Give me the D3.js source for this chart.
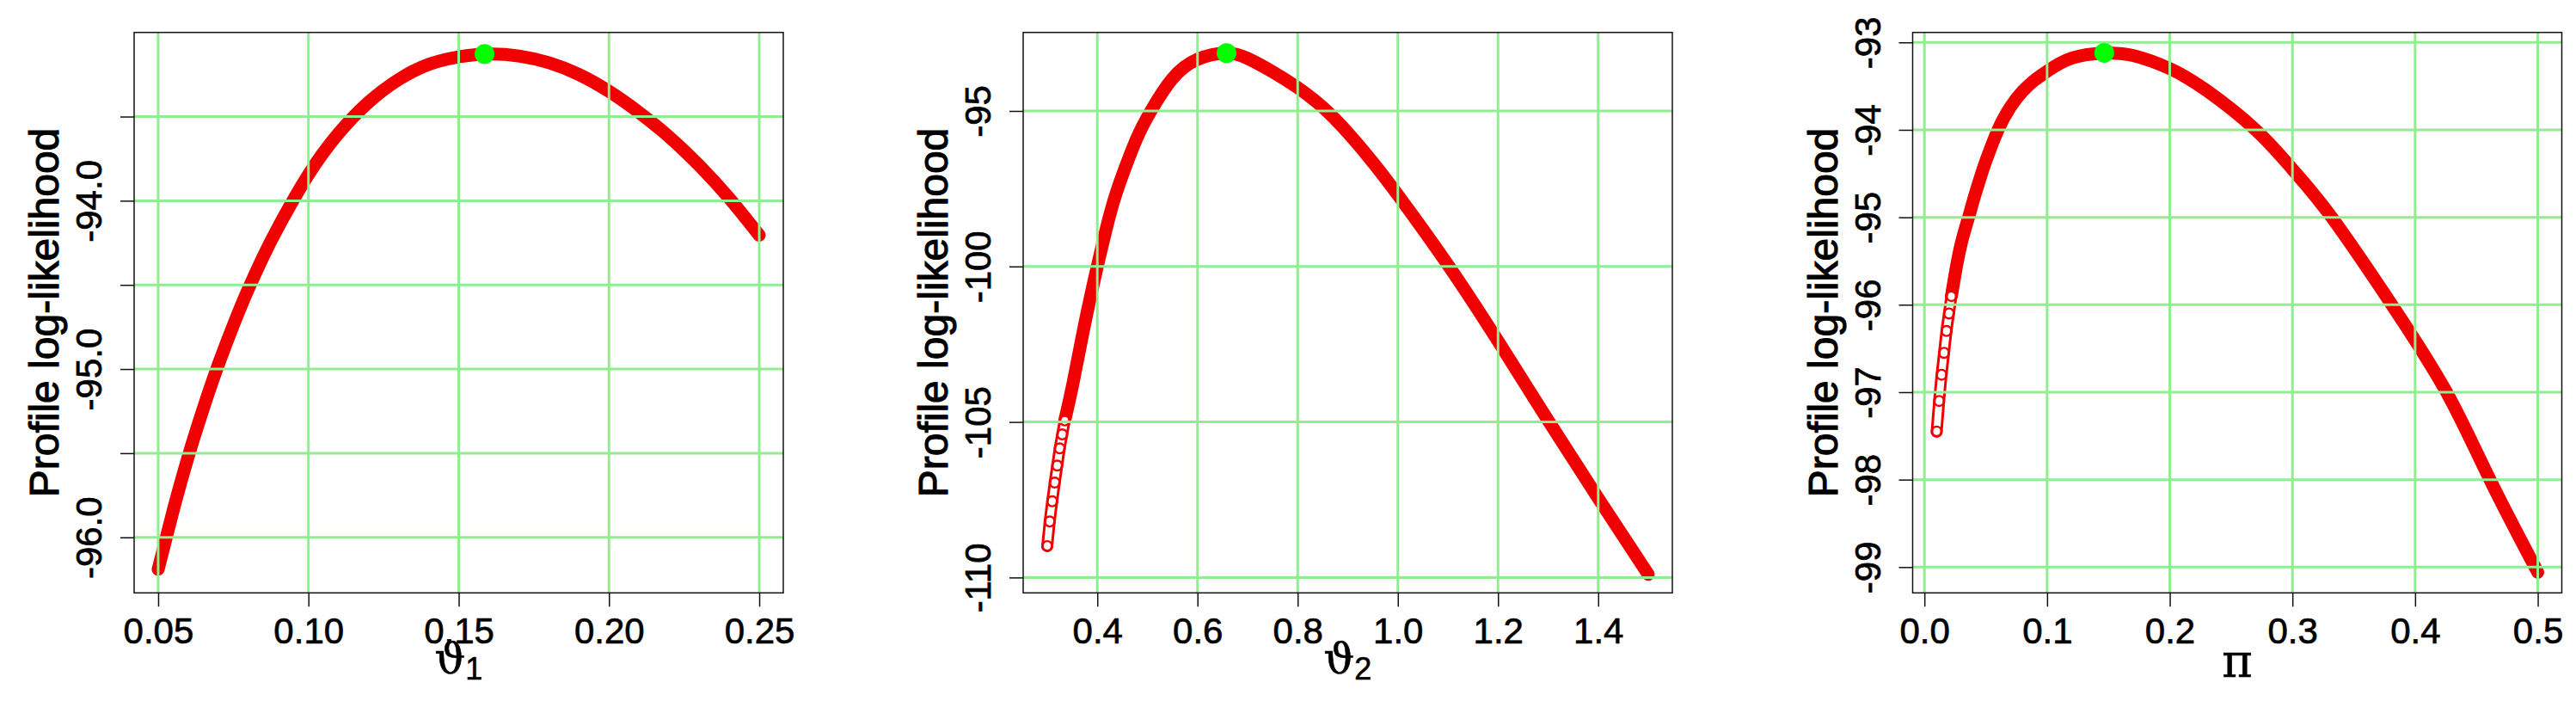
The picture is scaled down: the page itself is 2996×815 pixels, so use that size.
<!DOCTYPE html>
<html>
<head>
<meta charset="utf-8">
<script src="https://cdn.jsdelivr.net/npm/d3@7/dist/d3.min.js"></script>
<style>
  body { margin: 0; background: white; }
  text { font-family: "Liberation Sans", Arial, sans-serif; fill: black; }
</style>
</head>
<body>
<svg id="chart" width="2996" height="815"></svg>
<script>
// profile log-likelihood for theta_1
const theta1 = [0.050, 0.055, 0.060, 0.065, 0.070, 0.075, 0.080, 0.085, 0.090, 0.100, 0.110, 0.120,
  0.130, 0.140, 0.150, 0.160, 0.170, 0.180, 0.190, 0.200, 0.210, 0.220, 0.230, 0.240, 0.250];
const loglik1 = [-96.19, -95.84, -95.52, -95.235, -94.975, -94.74, -94.525, -94.33, -94.155, -93.845, -93.6, -93.415,
  -93.28, -93.19, -93.145, -93.128, -93.14, -93.18, -93.25, -93.35, -93.475, -93.62, -93.79, -93.985, -94.205];
const theta1Best = [0.1586, -93.128];
const theta1Ticks = [0.05, 0.10, 0.15, 0.20, 0.25];
const loglik1Ticks = [-96.0, -95.5, -95.0, -94.5, -94.0, -93.5];
const loglik1Labels = ["-96.0", "", "-95.0", "", "-94.0", ""];

// profile log-likelihood for theta_2
const theta2 = [0.300, 0.305, 0.310, 0.315, 0.320, 0.325, 0.330, 0.335, 0.352, 0.375, 0.400, 0.427,
  0.450, 0.478, 0.507, 0.550, 0.600, 0.658, 0.700, 0.750, 0.800, 0.850, 0.900, 0.950, 1.000,
  1.100, 1.200, 1.300, 1.400, 1.500];
const loglik2 = [-108.99, -108.2, -107.55, -106.95, -106.4, -105.85, -105.4, -104.95, -103.71, -101.84, -100.0, -98.22,
  -97.07, -95.91, -95.0, -93.96, -93.34, -93.14, -93.31, -93.74, -94.25, -94.88, -95.7, -96.65, -97.7,
  -99.95, -102.4, -104.95, -107.45, -109.9];
const theta2Best = [0.658, -93.14];
const theta2Ticks = [0.4, 0.6, 0.8, 1.0, 1.2, 1.4];
const loglik2Ticks = [-110, -105, -100, -95];
const loglik2Labels = ["-110", "-105", "-100", "-95"];

// profile log-likelihood for pi
const piVals = [0.010, 0.012, 0.014, 0.016, 0.018, 0.020, 0.022, 0.025, 0.030, 0.036, 0.040, 0.045,
  0.050, 0.060, 0.070, 0.080, 0.090, 0.100, 0.120, 0.147, 0.170, 0.200, 0.230, 0.270, 0.300,
  0.332, 0.381, 0.4256, 0.461, 0.500];
const loglik3 = [-97.45, -97.1, -96.8, -96.55, -96.3, -96.1, -95.9, -95.65, -95.3, -95.0, -94.8, -94.57,
  -94.36, -94.0, -93.74, -93.56, -93.43, -93.33, -93.18, -93.123, -93.15, -93.3, -93.55, -94.0, -94.45,
  -95.0, -96.0, -97.0, -98.0, -99.06];
const piBest = [0.1466, -93.12];
const piTicks = [0.0, 0.1, 0.2, 0.3, 0.4, 0.5];
const loglik3Ticks = [-99, -98, -97, -96, -95, -94, -93];

const svg = d3.select("#chart");
svg.append("rect").attr("width", 2996).attr("height", 815).attr("fill", "white");

const boxTop = 37.7;
const boxBottom = 689.3;
const boxWidth = 755;
const red = "#f00000";

const panels = [
  {
    left: 156, xs: theta1, ys: loglik1, best: theta1Best, sparse: 0,
    xlim: [0.042, 0.258], ylim: [-96.33, -93.0],
    xticks: theta1Ticks, xfmt: d3.format(".2f"),
    yticks: loglik1Ticks, ylabels: loglik1Labels,
    sym: "\u03D1", sub: "1"
  },
  {
    left: 1190, xs: theta2, ys: loglik2, best: theta2Best, sparse: 8,
    xlim: [0.252, 1.548], ylim: [-110.495, -92.475],
    xticks: theta2Ticks, xfmt: d3.format(".1f"),
    yticks: loglik2Ticks, ylabels: loglik2Labels,
    sym: "\u03D1", sub: "2"
  },
  {
    left: 2224.5, xs: piVals, ys: loglik3, best: piBest, sparse: 7,
    xlim: [-0.0096, 0.5196], ylim: [-99.295, -92.886],
    xticks: piTicks, xfmt: d3.format(".1f"),
    yticks: loglik3Ticks, ylabels: loglik3Ticks.map(String),
    sym: "\u03C0", sub: null
  }
];

panels.forEach(drawPanel);

function drawPanel(p) {
  const x = d3.scaleLinear().domain(p.xlim).range([p.left, p.left + boxWidth]);
  const y = d3.scaleLinear().domain(p.ylim).range([boxBottom, boxTop]);
  const g = svg.append("g");

  const pts = p.xs.map((d, i) => [d, p.ys[i]]);

  const line = d3.line()
    .x(d => x(d[0]))
    .y(d => y(d[1]))
    .curve(d3.curveNatural);

  // dense part of the curve: overlapping open circles look like a solid band
  g.append("path")
    .datum(pts.slice(Math.max(p.sparse - 1, 0)))
    .attr("d", line)
    .attr("fill", "none")
    .attr("stroke", red)
    .attr("stroke-width", 15)
    .attr("stroke-linecap", "round")
    .attr("stroke-linejoin", "round");

  // steep part: a hollow chain of open circles
  if (p.sparse > 0) {
    const chain = pts.slice(0, p.sparse);
    g.append("path")
      .datum(chain)
      .attr("d", line)
      .attr("fill", "none")
      .attr("stroke", red)
      .attr("stroke-width", 14)
      .attr("stroke-linecap", "round");
    g.append("path")
      .datum(chain)
      .attr("d", line)
      .attr("fill", "none")
      .attr("stroke", "white")
      .attr("stroke-width", 8)
      .attr("stroke-linecap", "round");
    g.selectAll("circle.pt")
      .data(chain)
      .enter()
      .append("circle")
      .attr("class", "pt")
      .attr("cx", d => x(d[0]))
      .attr("cy", d => y(d[1]))
      .attr("r", 5.8)
      .attr("fill", "none")
      .attr("stroke", red)
      .attr("stroke-width", 2.4);
  }

  // grid
  g.selectAll("line.vgrid")
    .data(p.xticks)
    .enter()
    .append("line")
    .attr("x1", d => x(d)).attr("x2", d => x(d))
    .attr("y1", boxTop).attr("y2", boxBottom)
    .attr("stroke", "lightgreen")
    .attr("stroke-width", 3);

  g.selectAll("line.hgrid")
    .data(p.yticks)
    .enter()
    .append("line")
    .attr("x1", p.left).attr("x2", p.left + boxWidth)
    .attr("y1", d => y(d)).attr("y2", d => y(d))
    .attr("stroke", "lightgreen")
    .attr("stroke-width", 3);

  // box
  g.append("rect")
    .attr("x", p.left).attr("y", boxTop)
    .attr("width", boxWidth).attr("height", boxBottom - boxTop)
    .attr("fill", "none")
    .attr("stroke", "#111")
    .attr("stroke-width", 1.5);

  // axes
  const xAxis = d3.axisBottom(x)
    .tickValues(p.xticks)
    .tickFormat(p.xfmt)
    .tickSize(16)
    .tickPadding(13);

  const gx = g.append("g")
    .attr("transform", translate(0, boxBottom))
    .call(xAxis);
  gx.select(".domain").remove();
  gx.selectAll("line").attr("stroke", "#111").attr("stroke-width", 1.5);
  gx.selectAll("text")
    .attr("fill", "black")
    .attr("stroke", "black")
    .attr("stroke-width", 0.7)
    .style("font-size", "42px")
    .style("font-family", "'Liberation Sans', Arial, sans-serif");

  const yAxis = d3.axisLeft(y)
    .tickValues(p.yticks)
    .tickFormat((d, i) => p.ylabels[i])
    .tickSize(16);

  const gy = g.append("g")
    .attr("transform", translate(p.left, 0))
    .call(yAxis);
  gy.select(".domain").remove();
  gy.selectAll("line").attr("stroke", "#111").attr("stroke-width", 1.5);
  gy.selectAll("text")
    .attr("transform", "rotate(-90)")
    .attr("x", 0)
    .attr("y", -38)
    .attr("dy", null)
    .attr("text-anchor", "middle")
    .attr("fill", "black")
    .attr("stroke", "black")
    .attr("stroke-width", 0.7)
    .style("font-size", "42px")
    .style("font-family", "'Liberation Sans', Arial, sans-serif");

  // axis titles
  g.append("text")
    .attr("transform", translate(p.left - 88, (boxTop + boxBottom) / 2) + " rotate(-90)")
    .attr("text-anchor", "middle")
    .attr("stroke", "black")
    .attr("stroke-width", 1.1)
    .style("font-size", "48px")
    .text("Profile log-likelihood");

  const xt = g.append("text")
    .attr("x", p.left + boxWidth / 2)
    .attr("y", p.sub ? 783 : 787)
    .attr("text-anchor", "middle")
    .attr("stroke", "black")
    .attr("stroke-width", 0.6)
    .style("font-size", "48px");
  xt.append("tspan")
    .style("font-family", "'DejaVu Serif', 'Liberation Serif', serif")
    .style("font-size", p.sub ? "50px" : "54px")
    .text(p.sym);
  if (p.sub) {
    xt.append("tspan")
      .attr("dy", 7)
      .style("font-size", "36px")
      .text(p.sub);
  }

  // maximum
  g.append("circle")
    .attr("cx", x(p.best[0]))
    .attr("cy", y(p.best[1]))
    .attr("r", 11.5)
    .attr("fill", "#00ff00");
}

function translate(x, y) {
  return "translate(" + String(x) + "," + String(y) + ")";
}
</script>
</body>
</html>
